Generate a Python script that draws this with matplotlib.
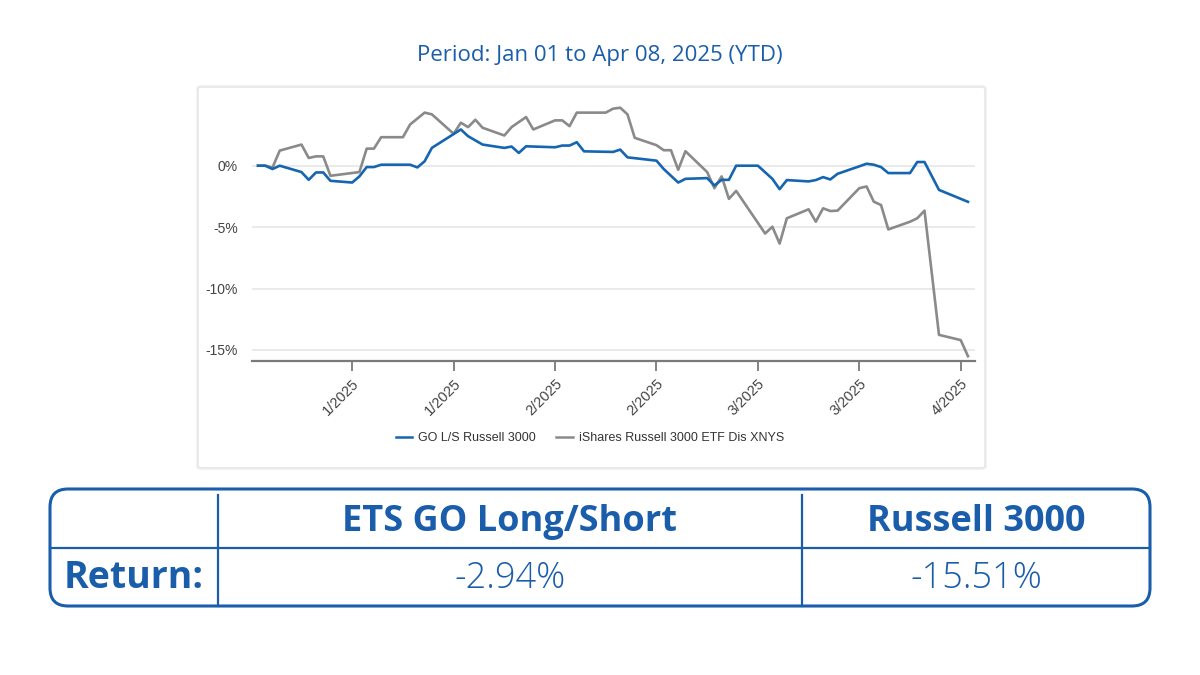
import matplotlib
matplotlib.use("Agg")
import matplotlib.pyplot as plt
import matplotlib.dates as mdates
from matplotlib.patches import FancyBboxPatch
from matplotlib.lines import Line2D
import pandas as pd

# Data (cumulative return, %)
go_dates = ["2024-12-31", "2025-01-01", "2025-01-02", "2025-01-03", "2025-01-06", "2025-01-07",
            "2025-01-08", "2025-01-09", "2025-01-10", "2025-01-13", "2025-01-14", "2025-01-15",
            "2025-01-16", "2025-01-17", "2025-01-21", "2025-01-22", "2025-01-23", "2025-01-24",
            "2025-01-28", "2025-01-29", "2025-01-31", "2025-02-03", "2025-02-04", "2025-02-05",
            "2025-02-06", "2025-02-10", "2025-02-11", "2025-02-12", "2025-02-13", "2025-02-14",
            "2025-02-18", "2025-02-19", "2025-02-20", "2025-02-24", "2025-02-25", "2025-02-27",
            "2025-02-28", "2025-03-03", "2025-03-04", "2025-03-05", "2025-03-06", "2025-03-07",
            "2025-03-10", "2025-03-12", "2025-03-13", "2025-03-14", "2025-03-17", "2025-03-18",
            "2025-03-19", "2025-03-20", "2025-03-21", "2025-03-24", "2025-03-25", "2025-03-26",
            "2025-03-27", "2025-03-28", "2025-03-31", "2025-04-01", "2025-04-02", "2025-04-04",
            "2025-04-08"]
go_values = [0, 0, -0.27, 0, -0.52, -1.15,
             -0.55, -0.55, -1.23, -1.37, -0.87, -0.11,
             -0.11, 0.08, 0.08, -0.14, 0.36, 1.45,
             2.95, 2.4, 1.72, 1.45, 1.56, 1.04,
             1.58, 1.5, 1.64, 1.64, 1.91, 1.17,
             1.12, 1.31, 0.68, 0.41, -0.27, -1.37,
             -1.07, -1.01, -1.61, -1.15, -1.15, 0,
             0, -1.07, -1.91, -1.17, -1.28, -1.17,
             -0.93, -1.12, -0.66, -0.05, 0.16, 0.08,
             -0.11, -0.6, -0.6, 0.3, 0.3, -1.97,
             -2.94]

r3000_dates = ["2024-12-31", "2025-01-01", "2025-01-02", "2025-01-03", "2025-01-06", "2025-01-07",
               "2025-01-08", "2025-01-09", "2025-01-10", "2025-01-14", "2025-01-15", "2025-01-16",
               "2025-01-17", "2025-01-20", "2025-01-21", "2025-01-23", "2025-01-24", "2025-01-27",
               "2025-01-28", "2025-01-29", "2025-01-30", "2025-01-31", "2025-02-03", "2025-02-04",
               "2025-02-06", "2025-02-07", "2025-02-10", "2025-02-11", "2025-02-12", "2025-02-13",
               "2025-02-17", "2025-02-18", "2025-02-19", "2025-02-20", "2025-02-21", "2025-02-24",
               "2025-02-25", "2025-02-26", "2025-02-27", "2025-02-28", "2025-03-03", "2025-03-04",
               "2025-03-05", "2025-03-06", "2025-03-07", "2025-03-11", "2025-03-12", "2025-03-13",
               "2025-03-14", "2025-03-17", "2025-03-18", "2025-03-19", "2025-03-20", "2025-03-21",
               "2025-03-24", "2025-03-25", "2025-03-26", "2025-03-27", "2025-03-28", "2025-03-31",
               "2025-04-01", "2025-04-02", "2025-04-04", "2025-04-07", "2025-04-08"]
r3000_values = [0, 0, -0.15, 1.23, 1.72, 0.63,
                0.76, 0.76, -0.82, -0.52, 1.39, 1.39,
                2.32, 2.32, 3.36, 4.32, 4.18, 2.6,
                3.5, 3.14, 3.74, 3.09, 2.46, 3.14,
                3.96, 2.95, 3.69, 3.69, 3.22, 4.32,
                4.32, 4.64, 4.72, 4.18, 2.27, 1.67,
                1.26, 1.26, -0.33, 1.18, -0.52, -1.83,
                -0.87, -2.7, -2.05, -5.52, -4.97, -6.34,
                -4.28, -3.55, -4.56, -3.47, -3.69, -3.66,
                -1.83, -1.69, -2.93, -3.2, -5.19, -4.56,
                -4.28, -3.66, -13.77, -14.2, -15.51]

tick_dates = ["2025-01-13", "2025-01-27", "2025-02-10", "2025-02-24",
              "2025-03-10", "2025-03-24", "2025-04-07"]
y_ticks = [0, -5, -10, -15]

series_names = ["GO L/S Russell 3000", "iShares Russell 3000 ETF Dis XNYS"]
table_header = ["ETS GO Long/Short", "Russell 3000"]
table_row_label = "Return:"
table_returns = ["-2.94%", "-15.51%"]

BLUE = "#1565b0"
GRAY = "#8a8a8a"
NAVY = "#1a5dab"

fig = plt.figure(figsize=(12, 6.75), dpi=100)
fig.patch.set_facecolor("white")

# card behind the chart (soft shadow look)
for lw_, c in [(3, "#f3f3f3"), (1.3, "#e8e8e8")]:
    fig.patches.append(FancyBboxPatch((198 / 1200, 1 - 468 / 675), 787 / 1200, 381 / 675,
                                      boxstyle="round,pad=0,rounding_size=0.003",
                                      transform=fig.transFigure, facecolor="white",
                                      edgecolor=c, lw=lw_, zorder=-5))

ax = fig.add_axes([252 / 1200, 1 - 361 / 675, 723 / 1200, 269 / 675])
ax.set_zorder(2)
ax.patch.set_alpha(0)

gx = pd.to_datetime(go_dates)
rx = pd.to_datetime(r3000_dates)
ax.plot(gx, go_values, color=BLUE, lw=1.9, zorder=3)
ax.plot(rx, r3000_values, color=GRAY, lw=1.9, zorder=2)

x0 = mdates.date2num(pd.Timestamp("2024-12-31")) - 0.83
x1 = mdates.date2num(pd.Timestamp("2025-04-08")) + 0.97
ax.set_xlim(x0, x1)
ax.set_ylim(-15.9, 6)

ax.set_yticks(y_ticks)
ax.set_yticklabels([f"{v}%" for v in y_ticks])
ax.grid(axis="y", color="#e6e6e6", lw=1.2)
ax.set_axisbelow(True)

ticks = pd.to_datetime(tick_dates)
ax.set_xticks(mdates.date2num(ticks))
ax.set_xticklabels([f"{d.month}/{d.year}" for d in ticks], rotation=45,
                   ha="right", rotation_mode="anchor")

for s in ["top", "right", "left"]:
    ax.spines[s].set_visible(False)
ax.spines["bottom"].set_color("#7a7a7a")
ax.spines["bottom"].set_linewidth(1.6)
ax.tick_params(axis="y", length=0, pad=10, labelsize=10, labelcolor="#444444")
ax.tick_params(axis="x", length=7, width=1.3, color="#7a7a7a", pad=4,
               labelsize=10.5, labelcolor="#444444")
for t in ax.get_xticklabels() + ax.get_yticklabels():
    t.set_fontfamily("Liberation Sans")

handles = [Line2D([], [], color=BLUE, lw=1.8), Line2D([], [], color=GRAY, lw=1.8)]
fig.legend(handles, series_names, loc="center", bbox_to_anchor=(590 / 1200, 1 - 438 / 675),
           ncol=2, frameon=False, handlelength=1.3, handletextpad=0.5, columnspacing=1.6,
           prop={"family": "Liberation Sans", "size": 9}, labelcolor="#333333")

# title
fig.text(0.5, 1 - 55 / 675, "Period: Jan 01 to Apr 08, 2025 (YTD)", ha="center", va="center",
         fontsize=16, color=NAVY, family="Open Sans")

# results table
fig.patches.append(FancyBboxPatch((50 / 1200, 1 - 606 / 675), 1100 / 1200, 117 / 675,
                                  boxstyle="round,pad=0,rounding_size=0.015",
                                  transform=fig.transFigure, facecolor="none",
                                  edgecolor=NAVY, lw=2.2, mutation_aspect=1200 / 675))
fig.add_artist(Line2D([50 / 1200, 1150 / 1200], [1 - 548 / 675] * 2, color=NAVY, lw=1.6))
for xv in [218, 802]:
    fig.add_artist(Line2D([xv / 1200] * 2, [1 - 495 / 675, 1 - 606 / 675], color=NAVY, lw=1.6))

col_cx = [510, 976]
for cx, head, ret in zip(col_cx, table_header, table_returns):
    fig.text(cx / 1200, 1 - 522 / 675, head, ha="center", va="center", fontsize=26,
             fontweight="bold", color=NAVY, family="Open Sans")
    fig.text(cx / 1200, 1 - 578 / 675, ret, ha="center", va="center", fontsize=26,
             fontweight="light", color=NAVY, family="Open Sans")
fig.text(134 / 1200, 1 - 578 / 675, table_row_label, ha="center", va="center", fontsize=27,
         fontweight="bold", color=NAVY, family="Open Sans")

fig.savefig("out.png", dpi=100, facecolor="white")
